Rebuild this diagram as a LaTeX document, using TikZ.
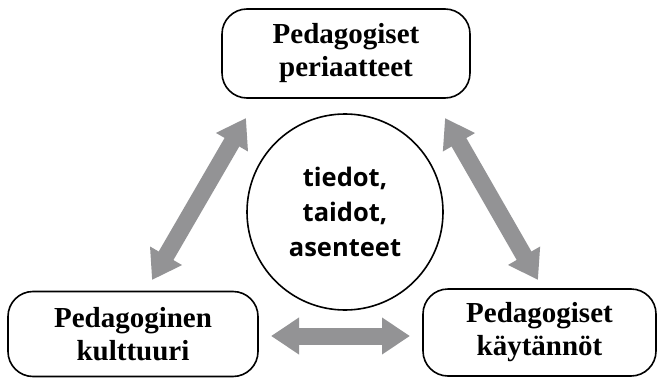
\documentclass[tikz,border=0pt]{standalone}
\usepackage{fontspec}
\setmainfont{Liberation Serif}
\newfontfamily\circfont{Open Sans}
\usetikzlibrary{arrows.meta}
\definecolor{arrowgray}{RGB}{147,147,149}
\tikzset{
  box/.style={draw=black, line width=1.6pt, rounded corners=25pt, align=center,
    font=\bfseries\fontsize{29}{33}\selectfont, inner sep=0pt},
  circ/.style={draw=black, line width=1.6pt, circle, align=center,
    font=\circfont\bfseries\fontsize{25.5}{35}\selectfont, inner sep=0pt},
  bigarrow/.style={draw=arrowgray, line width=17pt,
    {Triangle[length=28pt,width=35pt]}-{Triangle[length=28pt,width=35pt]}}
}
\begin{document}
\begin{tikzpicture}[x=1pt,y=1pt]
\useasboundingbox (0,0) rectangle (660,378);
\node[box, minimum width=248pt, minimum height=89pt] (top) at (346,324.5) {Pedagogiset\\periaatteet};
\node[box, minimum width=250pt, minimum height=85pt] (left) at (133,44) {Pedagoginen\\kulttuuri};
\node[box, minimum width=233pt, minimum height=87pt] (right) at (539.5,45.5) {Pedagogiset\\käytännöt};
\node[circ, minimum size=196pt] (mid) at (345,166) {tiedot,\\taidot,\\asenteet};
\coordinate (l1) at (152,98);
\coordinate (l2) at (246,260);
\coordinate (r1) at (445,260);
\coordinate (r2) at (538,98);
\coordinate (b1) at (271,42);
\coordinate (b2) at (410,42);
\draw[bigarrow] (l1) -- (l2);
\draw[bigarrow] (r1) -- (r2);
\draw[bigarrow] (b1) -- (b2);
\end{tikzpicture}
\end{document}
